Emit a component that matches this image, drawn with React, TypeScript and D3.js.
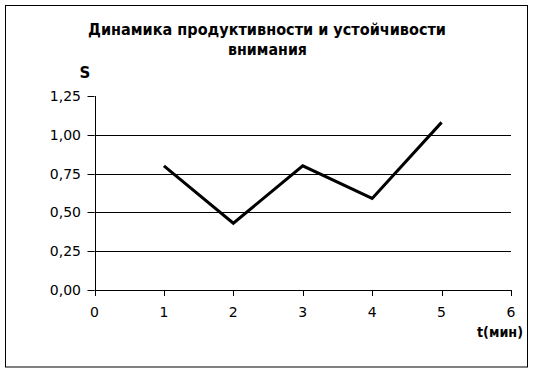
import React from "react";
import * as d3 from "d3";

const minutes = [1, 2, 3, 4, 5];
const sValues = [0.8, 0.43, 0.8, 0.59, 1.08];
const yTicks = [0, 0.25, 0.5, 0.75, 1.0, 1.25];
const xTicks = [0, 1, 2, 3, 4, 5, 6];
const titleLines = ["Динамика продуктивности и устойчивости", "внимания"];
const yLabel = "S";
const xLabel = "t(мин)";

export default function App() {
  const W = 534, H = 373;
  const x = d3.scaleLinear().domain([0, 6]).range([94.5, 511]);
  const y = d3.scaleLinear().domain([0, 1.25]).range([290, 96]);
  const line = d3.line<number>().x((_, i) => x(minutes[i])).y((d) => y(d));
  const fmt = (v: number) => v.toFixed(2).replace(".", ",");
  const font = "'DejaVu Sans', Verdana, sans-serif";
  return (
    <svg width={W} height={H} style={{ position: "absolute", left: 0, top: 0, background: "#fff" }}>
      <rect x={5.5} y={5.5} width={522} height={361.5} fill="#fff" stroke="#000" strokeWidth={1} />
      <text x={267} y={34.5} textAnchor="middle" fontFamily={font} fontWeight="bold" fontSize={15.5} textLength={358} lengthAdjust="spacingAndGlyphs">{titleLines[0]}</text>
      <text x={267.5} y={55} textAnchor="middle" fontFamily={font} fontWeight="bold" fontSize={15.5} textLength={79} lengthAdjust="spacingAndGlyphs">{titleLines[1]}</text>
      <text x={85} y={78} textAnchor="middle" fontFamily={font} fontWeight="bold" fontSize={15}>{yLabel}</text>
      {yTicks.map((t) => (
        <g key={"y" + t}>
          {t > 0 && t < 1.25 && (
            <line x1={x(0)} x2={x(6)} y1={Math.round(y(t)) + 0.5} y2={Math.round(y(t)) + 0.5} stroke="#000" strokeWidth={1} />
          )}
          <line x1={x(0) - 7} x2={x(0)} y1={Math.round(y(t)) + 0.5} y2={Math.round(y(t)) + 0.5} stroke="#000" strokeWidth={1} />
          <text x={81} y={y(t)} dy="0.36em" textAnchor="end" fontFamily={font} fontSize={14}>{fmt(t)}</text>
        </g>
      ))}
      <line x1={Math.round(x(0)) + 0.5} x2={Math.round(x(0)) + 0.5} y1={y(1.25)} y2={y(0)} stroke="#000" strokeWidth={1} />
      <line x1={x(0)} x2={x(6)} y1={Math.round(y(0)) + 0.5} y2={Math.round(y(0)) + 0.5} stroke="#000" strokeWidth={1} />
      {xTicks.map((t) => (
        <g key={"x" + t}>
          <line x1={Math.round(x(t)) + 0.5} x2={Math.round(x(t)) + 0.5} y1={y(0)} y2={y(0) + 6} stroke="#000" strokeWidth={1} />
          <text x={x(t)} y={317} textAnchor="middle" fontFamily={font} fontSize={14}>{t}</text>
        </g>
      ))}
      <text x={477} y={336.5} textAnchor="start" fontFamily={font} fontWeight="bold" fontSize={14} textLength={46} lengthAdjust="spacingAndGlyphs">{xLabel}</text>
      <path d={line(sValues) || ""} fill="none" stroke="#000" strokeWidth={3} strokeLinejoin="miter" />
    </svg>
  );
}
